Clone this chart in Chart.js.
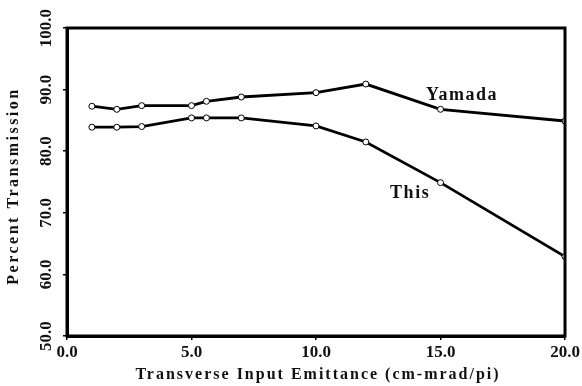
<!DOCTYPE html>
<html>
<head>
<meta charset="utf-8">
<script src="https://cdn.jsdelivr.net/npm/chart.js@4"></script>
<style>
  html, body { margin: 0; padding: 0; background: #fff; }
  #wrap { width: 582px; height: 386px; }
</style>
</head>
<body>
<div id="wrap"><canvas id="chart" width="582" height="386"></canvas></div>
<script>
(function () {
  var emittance = [1, 2, 3, 5, 5.6, 7, 10, 12, 15, 20];
  var yamadaValues = [87.3, 86.8, 87.4, 87.4, 88.1, 88.8, 89.5, 90.9, 86.8, 84.9];
  var thisValues = [83.9, 83.9, 84.0, 85.4, 85.4, 85.4, 84.1, 81.5, 74.9, 62.9];
  var xTicks = [0, 5, 10, 15, 20];
  var yTicks = [50, 60, 70, 80, 90, 100];
  var seriesNames = ["Yamada", "This"];
  var nameAnchors = [[15.86, 89.1], [13.78, 73.2]];
  var xTitle = "Transverse Input Emittance (cm-mrad/pi)";
  var yTitle = "Percent Transmission";

  var serif = "'Liberation Serif', 'DejaVu Serif', serif";

  function toPoints(xs, ys) {
    return xs.map(function (x, i) { return { x: x, y: ys[i] }; });
  }

  function lineSet(label, values) {
    return {
      label: label,
      data: toPoints(emittance, values),
      showLine: true,
      borderColor: "#000",
      borderWidth: 2.8,
      pointRadius: 3,
      pointBorderWidth: 1,
      pointBackgroundColor: "#fff",
      pointBorderColor: "#000",
      tension: 0,
    };
  }

  var plotExtras = {
    id: "plotExtras",
    afterDraw: function (chart) {
      var ctx = chart.ctx;
      var area = chart.chartArea;
      var xs = chart.scales.x;
      var ys = chart.scales.y;
      ctx.save();

      // box round the plot
      ctx.strokeStyle = "#000";
      ctx.lineWidth = 3;
      ctx.strokeRect(area.left, area.top, area.right - area.left, area.bottom - area.top);

      ctx.fillStyle = "#111";
      ctx.textAlign = "center";
      ctx.textBaseline = "middle";

      // rotated y tick labels
      ctx.font = "bold 17px " + serif;
      yTicks.forEach(function (v) {
        ctx.save();
        ctx.translate(47, ys.getPixelForValue(v));
        ctx.rotate(-Math.PI / 2);
        ctx.fillText(v.toFixed(1), 0, 0);
        ctx.restore();
      });

      // axis titles, spaced out like the scan
      ctx.font = "bold 16px " + serif;
      ctx.letterSpacing = "2px";
      ctx.fillText(xTitle, (area.left + area.right) / 2 + 2, 375);
      ctx.save();
      ctx.translate(14, (area.top + area.bottom) / 2 + 4);
      ctx.rotate(-Math.PI / 2);
      ctx.letterSpacing = "2.5px";
      ctx.fillText(yTitle, 0, 0);
      ctx.restore();

      // series names next to the lines
      ctx.font = "bold 18px " + serif;
      ctx.letterSpacing = "1.5px";
      seriesNames.forEach(function (name, i) {
        ctx.fillText(name, xs.getPixelForValue(nameAnchors[i][0]), ys.getPixelForValue(nameAnchors[i][1]));
      });
      ctx.restore();
    },
  };

  new Chart(document.getElementById("chart"), {
    type: "scatter",
    data: {
      datasets: [lineSet(seriesNames[0], yamadaValues), lineSet(seriesNames[1], thisValues)],
    },
    options: {
      responsive: false,
      animation: false,
      layout: { padding: { top: 28, right: 17, left: 0, bottom: 0 } },
      scales: {
        x: {
          type: "linear",
          min: 0,
          max: 20,
          afterFit: function (scale) { scale.height = 50; },
          afterBuildTicks: function (scale) {
            scale.ticks = xTicks.map(function (v) { return { value: v }; });
          },
          ticks: {
            color: "#111",
            padding: 2,
            maxRotation: 0,
            font: { family: serif, size: 17, weight: "bold" },
            callback: function (value) { return Number(value).toFixed(1); },
          },
          grid: { drawOnChartArea: false, color: "#000", lineWidth: 1.5, tickLength: 4 },
          border: { color: "#000", width: 3 },
        },
        y: {
          type: "linear",
          min: 50,
          max: 100,
          afterFit: function (scale) { scale.width = 67; },
          afterBuildTicks: function (scale) {
            scale.ticks = yTicks.map(function (v) { return { value: v }; });
          },
          ticks: { display: false },
          grid: { drawOnChartArea: false, color: "#000", lineWidth: 1.5, tickLength: 4 },
          border: { color: "#000", width: 3 },
        },
      },
      plugins: {
        legend: { display: false },
        tooltip: { enabled: false },
      },
    },
    plugins: [plotExtras],
  });
})();
</script>
</body>
</html>
